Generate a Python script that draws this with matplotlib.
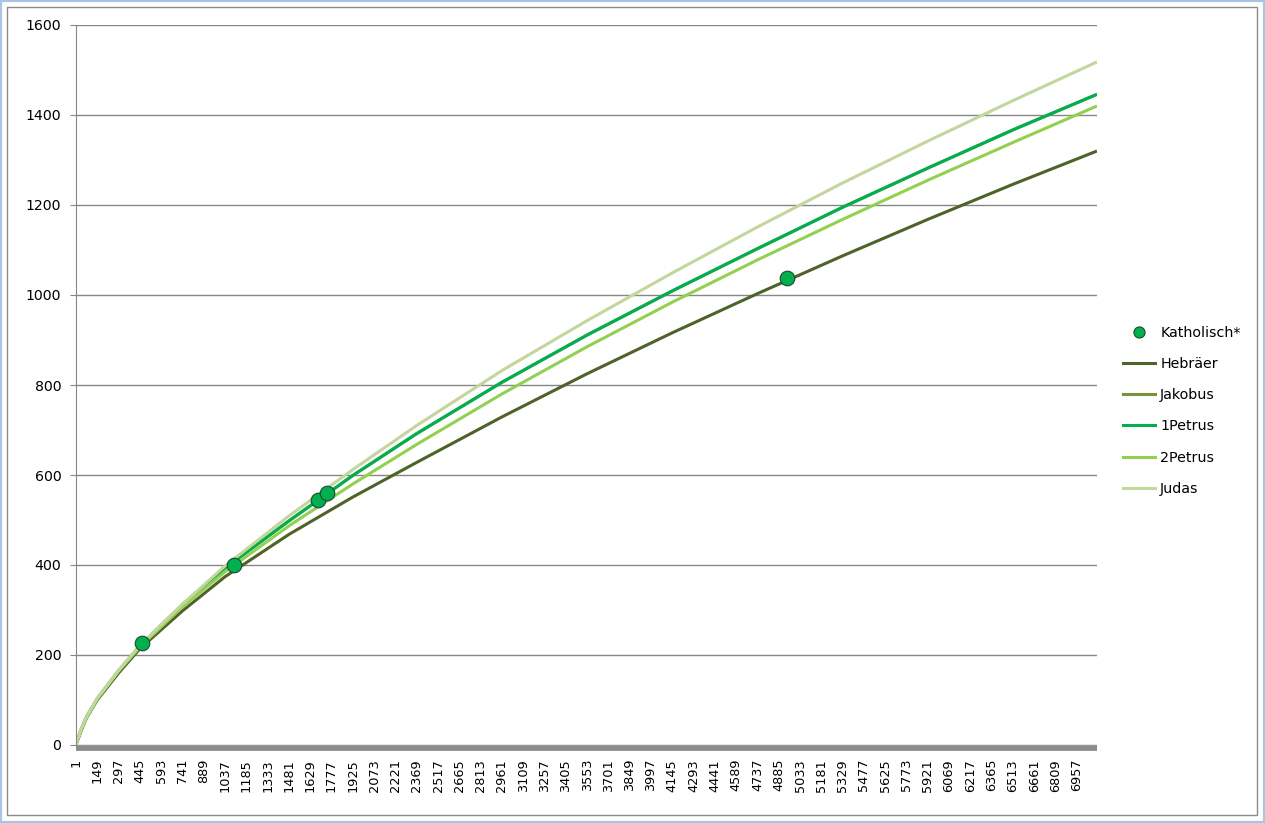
import matplotlib.pyplot as plt
from matplotlib.lines import Line2D
from matplotlib.patches import Rectangle

positions = [1, 38, 75, 149, 297, 445, 741, 1037, 1481, 1925, 2369,
             2961, 3553, 4145, 4737, 5329, 5921, 6513, 7097]

hebraeer = [1, 33, 61, 100, 160, 214, 298, 374, 468, 551, 628,
            729, 825, 916, 1003, 1087, 1168, 1246, 1320]
petrus1 = [1, 35, 63, 103, 165, 220, 312, 393, 498, 599, 692,
           806, 911, 1009, 1103, 1195, 1282, 1367, 1446]
jakobus = [1, 35, 63, 103, 165, 220, 312, 393, 498, 599, 692,
           806, 911, 1009, 1103, 1195, 1282, 1367, 1446]
petrus2 = [1, 35, 62, 102, 164, 218, 307, 385, 487, 580, 668,
           780, 885, 984, 1078, 1168, 1255, 1339, 1420]
judas = [1, 36, 63, 104, 166, 221, 313, 398, 509, 612, 710,
         832, 943, 1049, 1151, 1249, 1342, 1432, 1518]

# Katholisch* marks: total length of each letter and its vocabulary size
kath_x = [461, 1099, 1684, 1742, 4942]
kath_y = [227, 400, 545, 560, 1037]

n_categories = 7097
tick_step = 148

series = [
    ("Hebräer", hebraeer, "#4F6228"),
    ("Jakobus", jakobus, "#77933C"),
    ("1Petrus", petrus1, "#00B050"),
    ("2Petrus", petrus2, "#92D050"),
    ("Judas", judas, "#C3D69B"),
]

W, H = 1265, 823
fig = plt.figure(figsize=(W / 100, H / 100), dpi=100)
ax = fig.add_axes([76 / W, 1 - 745 / H, (1097 - 76) / W, (745 - 25) / H])

# spine setup first: set_position resets the tick settings
for s in ("top", "right"):
    ax.spines[s].set_visible(False)
ax.spines["left"].set_color("#868686")
ax.spines["bottom"].set_position(("outward", 2))
ax.spines["bottom"].set_color("#8c8c8c")
ax.spines["bottom"].set_linewidth(4.2)
ax.spines["bottom"].set_capstyle("butt")

for name, values, color in series:
    ax.plot(positions, values, color=color, lw=2.2, solid_capstyle="butt",
            solid_joinstyle="round", label=name, zorder=2)

ax.plot(kath_x, kath_y, linestyle="none", marker="o", markersize=10.5,
        markerfacecolor="#00B050", markeredgecolor="#1E4A2A",
        markeredgewidth=0.8, zorder=5, label="Katholisch*")

ax.set_xlim(1, n_categories)
ax.set_ylim(0, 1600)
ax.set_yticks(range(0, 1601, 200))
ax.yaxis.grid(True, color="#868686", lw=1)
ax.set_axisbelow(True)

xt = list(range(1, n_categories, tick_step))
ax.set_xticks(xt)
ax.set_xticklabels([str(v) for v in xt])
ax.tick_params(axis="x", length=0, pad=8, labelsize=9.3, labelrotation=90)
ax.tick_params(axis="y", length=4.5, color="#868686", direction="out",
               labelsize=10.2, pad=6)

handles = [Line2D([], [], linestyle="none", marker="o", markersize=8,
                  markerfacecolor="#00B050", markeredgecolor="#1E4A2A",
                  markeredgewidth=0.8)]
handles += [Line2D([], [], color=c, lw=2.2) for _, _, c in series]
labels = ["Katholisch*"] + [n for n, _, _ in series]
fig.legend(handles, labels, loc="upper left", frameon=False, fontsize=10.3,
           bbox_to_anchor=(1123 / W, 1 - 326 / H), borderpad=0,
           borderaxespad=0, handlelength=2.25, handletextpad=0.35,
           labelspacing=1.2)

# chart-area frame and outer window border
fig.patches.append(Rectangle((7 / W, 1 - 815 / H), 1250 / W, 808 / H,
                             fill=False, ec="#8c8c8c", lw=1,
                             transform=fig.transFigure))
fig.patches.append(Rectangle((0, 0), 1, 1, fill=False, ec="#A9C4E4", lw=3,
                             transform=fig.transFigure))

fig.savefig("out.png", dpi=100)
